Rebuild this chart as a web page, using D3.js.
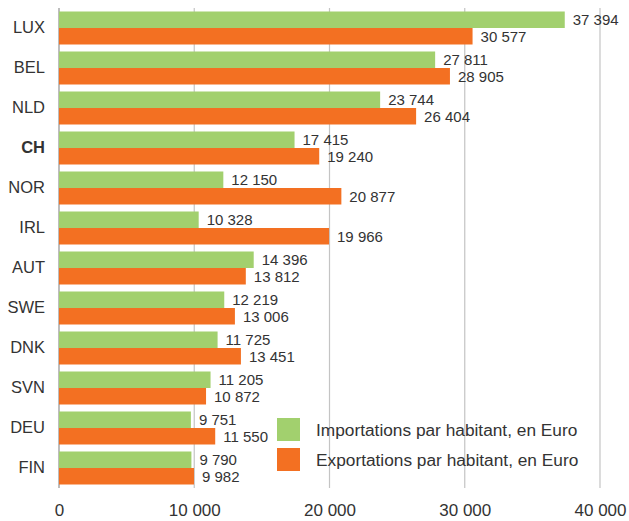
<html>
<head>
<meta charset="utf-8"/>
<script src="https://cdnjs.cloudflare.com/ajax/libs/d3/7.8.5/d3.min.js"></script>
<style>
  body{margin:0;background:#fff;}
  text{font-family:"Liberation Sans Narrow","Arial Narrow","Liberation Sans",sans-serif;fill:#333;}
</style>
</head>
<body>
<svg id="chart" width="629" height="521"></svg>
<script>
// data
var countries = ["LUX","BEL","NLD","CH","NOR","IRL","AUT","SWE","DNK","SVN","DEU","FIN"];
var imports = [37394, 27811, 23744, 17415, 12150, 10328, 14396, 12219, 11725, 11205, 9751, 9790];
var exports = [30577, 28905, 26404, 19240, 20877, 19966, 13812, 13006, 13451, 10872, 11550, 9982];
var seriesNames = ["Importations par habitant, en Euro", "Exportations par habitant, en Euro"];
var xTicks = [0, 10000, 20000, 30000, 40000];

var green = "#a2d06e", orange = "#f37022";
var svg = d3.select("#chart");

var x = d3.scaleLinear().domain([0, 40000]).range([59, 600]);
var y = d3.scaleBand().domain(countries).range([8, 488]).paddingInner(7/40).paddingOuter(3.5/40);
var ySub = d3.scaleBand().domain([0, 1]).range([0, y.bandwidth()]);

var fmt = function(v){ return d3.format(",")(v).replace(/,/g, " "); };

// gridlines
svg.append("g").selectAll("line").data(xTicks).enter().append("line")
    .attr("x1", function(d){ return x(d); }).attr("x2", function(d){ return x(d); })
    .attr("y1", 8).attr("y2", 488)
    .attr("stroke", function(d){ return d == 0 ? "#bdbdbd" : "#c4c4c4"; })
    .attr("stroke-width", function(d){ return d == 0 ? 2 : 1.2; });

var rows = countries.map(function(c, i){ return {c: c, v: [imports[i], exports[i]]}; });
var g = svg.append("g").selectAll("g").data(rows).enter().append("g")
    .attr("transform", function(d){ return "translate(0," + y(d.c) + ")"; });

g.selectAll("rect").data(function(d){ return d.v; }).enter().append("rect")
    .attr("x", x(0))
    .attr("y", function(d, j){ return ySub(j); })
    .attr("width", function(d){ return x(d) - x(0); })
    .attr("height", ySub.bandwidth())
    .attr("fill", function(d, j){ return j == 0 ? green : orange; });

g.selectAll("text.val").data(function(d){ return d.v; }).enter().append("text")
    .attr("class", "val")
    .attr("x", function(d){ return x(d) + 8; })
    .attr("y", function(d, j){ return ySub(j) + ySub.bandwidth() / 2; })
    .attr("dy", "0.36em")
    .attr("font-size", 15)
    .text(fmt);

// category labels
var yAxis = svg.append("g").attr("transform", "translate(45,0)")
    .call(d3.axisLeft(y).tickSize(0).tickPadding(0));
yAxis.select(".domain").remove();
yAxis.selectAll("text")
    .attr("font-size", 16.5)
    .attr("fill", "#333")
    .attr("font-weight", function(d){ return d == "CH" ? "bold" : "normal"; })
    .style("font-family", "'Liberation Sans Narrow','Arial Narrow','Liberation Sans',sans-serif");

// x axis labels
var xAxis = svg.append("g").attr("transform", "translate(0,516)")
    .call(d3.axisBottom(x).tickValues(xTicks).tickSize(0).tickPadding(0).tickFormat(fmt));
xAxis.select(".domain").remove();
xAxis.selectAll("text")
    .attr("y", 0).attr("dy", 0)
    .attr("font-size", 17)
    .attr("fill", "#333")
    .style("font-family", "'Liberation Sans Narrow','Arial Narrow','Liberation Sans',sans-serif");

// legend
var leg = svg.append("g").selectAll("g").data(seriesNames).enter().append("g")
    .attr("transform", function(d, i){ return "translate(277," + (418 + i * 30) + ")"; });
leg.append("rect").attr("width", 23).attr("height", 23)
    .attr("fill", function(d, i){ return i == 0 ? green : orange; });
leg.append("text").attr("x", 39).attr("y", 12).attr("dy", "0.36em")
    .attr("font-size", 17.3).text(function(d){ return d; });
</script>
</body>
</html>
